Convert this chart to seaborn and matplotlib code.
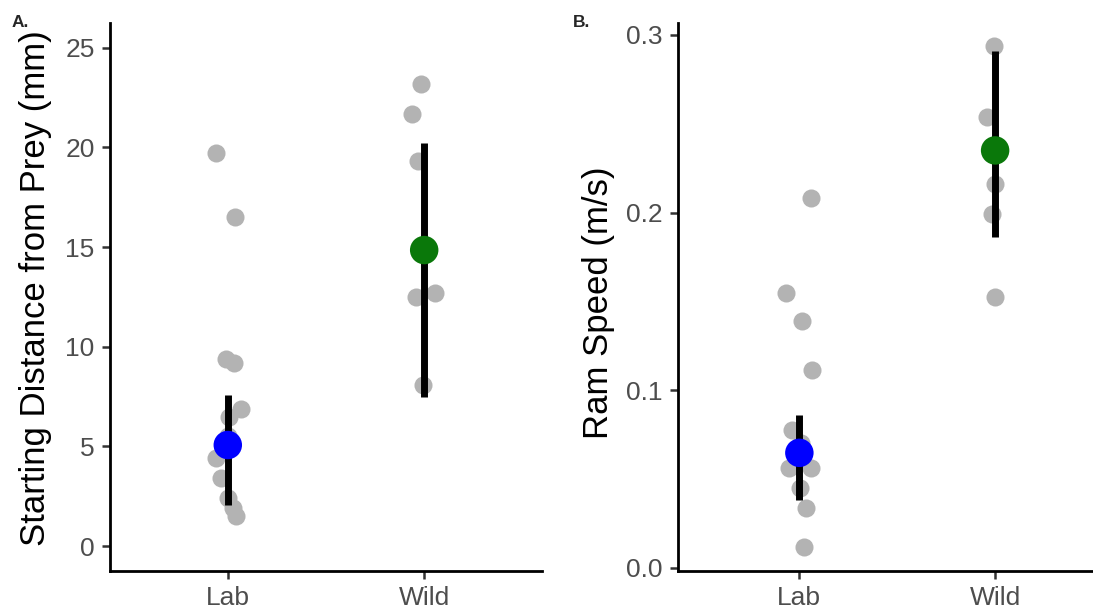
"""Starting distance and ram speed, lab vs wild"""

import numpy as np
import pandas as pd
import seaborn as sns
from matplotlib import pyplot as plt

# values
groups = ["Lab", "Wild"]

dist_lab = [19.7, 16.5, 9.4, 9.2, 6.9, 6.5, 5.5, 4.4, 3.4, 2.4, 1.9, 1.5]
dist_wild = [23.2, 21.7, 19.3, 12.7, 12.5, 8.1]
dist_center = [5.07, 14.85]
dist_low = [2.06, 7.5]
dist_high = [7.6, 20.2]

speed_lab = [0.2085, 0.155, 0.139, 0.1115, 0.0777, 0.0704, 0.0563, 0.0563,
             0.045, 0.0338, 0.0118]
speed_wild = [0.2935, 0.254, 0.2163, 0.1994, 0.1527]
speed_center = [0.0648, 0.235]
speed_low = [0.0383, 0.186]
speed_high = [0.0862, 0.291]

dot_colors = ["#0000FF", "#0A780A"]

sns.set_style("ticks")
plt.rcParams['font.family'] = ['Liberation Sans', 'DejaVu Sans']
np.random.seed(7)


def make_df(lab, wild, col):
    return pd.DataFrame({"group": ["Lab"] * len(lab) + ["Wild"] * len(wild),
                         col: lab + wild})


def draw_panel(ax, df, col, center, low, high, ylabel, label_xy):
    # raw points, jittered
    sns.stripplot(data=df, x="group", y=col, order=groups, ax=ax,
                  color="#B3B3B3", size=13, jitter=0.07, linewidth=0, zorder=2)
    # summary: bar + big dot
    summ = pd.DataFrame({"group": groups, "center": center, "low": low, "high": high})
    ax.vlines(x=range(len(groups)), ymin=summ["low"], ymax=summ["high"],
              color="black", linewidth=5, zorder=3)
    sns.scatterplot(data=summ, x="group", y="center", hue="group", palette=dot_colors,
                    s=420, linewidth=0, legend=False, ax=ax, zorder=4)
    ax.set_xlabel("")
    ax.set_ylabel(ylabel, fontsize=25, color="black")
    ax.yaxis.set_label_coords(*label_xy)
    ax.tick_params(axis="both", labelsize=19, labelcolor="#4D4D4D", color="#333333",
                   length=6, width=1.8, pad=5)
    for s in ["left", "bottom"]:
        ax.spines[s].set_linewidth(2)
        ax.spines[s].set_color("black")
    sns.despine(ax=ax)


fig = plt.figure(figsize=(10.93, 6.09), dpi=100)
ax1 = fig.add_axes([0.1006, 0.0624, 0.3953, 0.8998])
ax2 = fig.add_axes([0.6203, 0.0624, 0.3797, 0.8998])

draw_panel(ax1, make_df(dist_lab, dist_wild, "dist"), "dist",
           dist_center, dist_low, dist_high, "Starting Distance from Prey (mm)",
           (-0.134, 0.517))
ax1.set_ylim(-1.25, 26.24)
ax1.set_yticks([0, 5, 10, 15, 20, 25])
ax1.set_xlim(-0.6, 1.6)

draw_panel(ax2, make_df(speed_lab, speed_wild, "speed"), "speed",
           speed_center, speed_low, speed_high, "Ram Speed (m/s)",
           (-0.152, 0.489))
ax2.set_ylim(-0.0017, 0.3067)
ax2.set_yticks([0.0, 0.1, 0.2, 0.3])
ax2.set_yticklabels(["0.0", "0.1", "0.2", "0.3"])
ax2.set_xlim(-0.62, 1.5)

fig.text(12 / 1093, 1 - 27 / 609, "A.", fontsize=12.5, fontweight="bold")
fig.text(573 / 1093, 1 - 27 / 609, "B.", fontsize=12.5, fontweight="bold")

plt.savefig("out.png", dpi=100)
